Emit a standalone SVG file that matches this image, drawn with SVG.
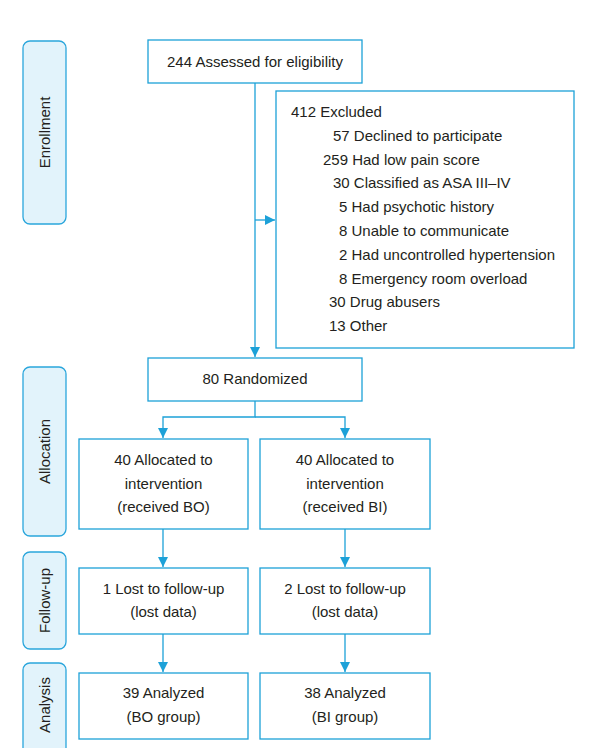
<svg xmlns="http://www.w3.org/2000/svg" width="595" height="748" viewBox="0 0 595 748">
<style>
.box{fill:#fff;stroke:#1da1d8;stroke-width:1.3}
.lab{fill:#e2f3fb;stroke:#2aa6dc;stroke-width:1.3}
text{font-family:"Liberation Sans",Arial,sans-serif;font-size:15px;fill:#231f20}
.c{text-anchor:middle}
.ln{fill:none;stroke:#1da1d8;stroke-width:1.3}
</style>
<defs>
<marker id="ah" viewBox="0 0 10 10" refX="10" refY="5" markerWidth="10" markerHeight="10" markerUnits="userSpaceOnUse" orient="auto">
<path d="M0,0 L10,5 L0,10 Z" fill="#1da1d8"/>
</marker>
</defs>
<rect width="595" height="748" fill="#fff"/>
<g id="label-enrollment"><rect class="lab" x="23" y="41" width="43" height="183" rx="7"/><text class="c" transform="translate(50,132.5) rotate(-90)">Enrollment</text></g>
<g id="label-allocation"><rect class="lab" x="23" y="367" width="43" height="169" rx="7"/><text class="c" transform="translate(50,451.5) rotate(-90)">Allocation</text></g>
<g id="label-followup"><rect class="lab" x="23" y="552" width="43" height="97" rx="7"/><text class="c" transform="translate(50,600.5) rotate(-90)">Follow-up</text></g>
<g id="label-analysis"><rect class="lab" x="23" y="663" width="43" height="95" rx="7"/><text class="c" transform="translate(50,705) rotate(-90)">Analysis</text></g>

<g id="connectors">
<path class="ln" d="M255,83 V357" marker-end="url(#ah)"/>
<path class="ln" d="M255,220 H275" marker-end="url(#ah)"/>
<path class="ln" d="M255,401 V417 H163 V438" marker-end="url(#ah)"/>
<path class="ln" d="M255,417 H345 V438" marker-end="url(#ah)"/>
<path class="ln" d="M163,529 V567" marker-end="url(#ah)"/>
<path class="ln" d="M345,529 V567" marker-end="url(#ah)"/>
<path class="ln" d="M163,634 V672" marker-end="url(#ah)"/>
<path class="ln" d="M345,634 V672" marker-end="url(#ah)"/>
</g>

<g id="assessed"><rect class="box" x="148" y="40" width="214" height="43"/><text class="c" x="255" y="66.5">244 Assessed for eligibility</text></g>
<g id="excluded"><rect class="box" x="276" y="91" width="298" height="257"/>
<text x="291" y="117">412 Excluded</text>
<text x="333" y="141">57 Declined to participate</text>
<text x="323" y="165">259 Had low pain score</text>
<text x="333" y="188">30 Classified as ASA III–IV</text>
<text x="339" y="212">5 Had psychotic history</text>
<text x="339" y="236">8 Unable to communicate</text>
<text x="339" y="260">2 Had uncontrolled hypertension</text>
<text x="339" y="284">8 Emergency room overload</text>
<text x="329" y="307">30 Drug abusers</text>
<text x="329" y="331">13 Other</text>
</g>
<g id="randomized"><rect class="box" x="148" y="358" width="214" height="43"/><text class="c" x="255" y="384">80 Randomized</text></g>
<g id="alloc-bo"><rect class="box" x="79" y="439" width="169" height="90"/><text class="c" x="163.5" y="465">40 Allocated to</text><text class="c" x="163.5" y="489">intervention</text><text class="c" x="163.5" y="512">(received BO)</text></g>
<g id="alloc-bi"><rect class="box" x="260" y="439" width="170" height="90"/><text class="c" x="345" y="465">40 Allocated to</text><text class="c" x="345" y="489">intervention</text><text class="c" x="345" y="512">(received BI)</text></g>
<g id="follow-bo"><rect class="box" x="79" y="568" width="169" height="66"/><text class="c" x="163.5" y="594">1 Lost to follow-up</text><text class="c" x="163.5" y="617">(lost data)</text></g>
<g id="follow-bi"><rect class="box" x="260" y="568" width="170" height="66"/><text class="c" x="345" y="594">2 Lost to follow-up</text><text class="c" x="345" y="617">(lost data)</text></g>
<g id="analysis-bo"><rect class="box" x="79" y="673" width="169" height="66"/><text class="c" x="163.5" y="698">39 Analyzed</text><text class="c" x="163.5" y="722">(BO group)</text></g>
<g id="analysis-bi"><rect class="box" x="260" y="673" width="170" height="66"/><text class="c" x="345" y="698">38 Analyzed</text><text class="c" x="345" y="722">(BI group)</text></g>
</svg>
